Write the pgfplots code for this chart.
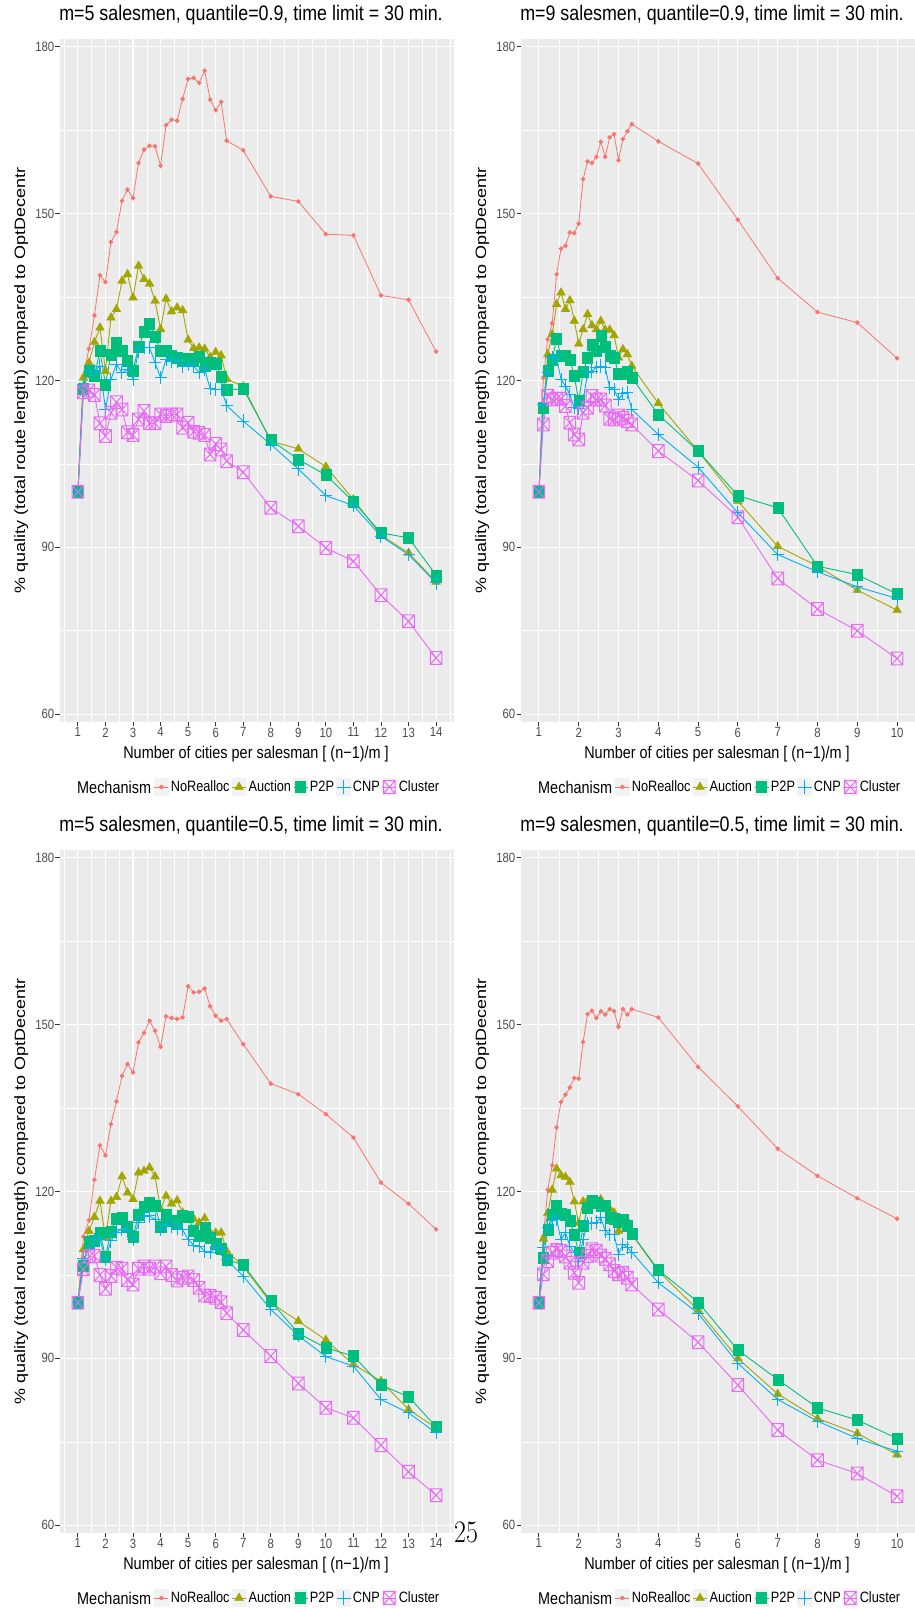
\documentclass[border=0pt]{standalone}
\usepackage{fontspec}
\usepackage{pgfplots}
\usepackage{pgfplotstable}
\pgfplotsset{compat=1.18}

\newfontfamily\nsans{Liberation Sans}[FakeStretch=0.85]
\newfontfamily\wsans{Liberation Sans}[FakeStretch=1.2]
\newcommand\titlefont{\nsans\fontsize{21}{24}\selectfont}
\newcommand\labfont{\nsans\fontsize{17}{20}\selectfont}
\newcommand\ylabfont{\wsans\fontsize{15}{18}\selectfont}
\newcommand\tickfont{\nsans\fontsize{13.4}{15}\selectfont}
\newcommand\legtitlefont{\nsans\fontsize{17}{20}\selectfont}
\newcommand\legfont{\nsans\fontsize{15}{18}\selectfont}

\definecolor{panelbg}{HTML}{EBEBEB}
\definecolor{keybg}{HTML}{F2F2F2}
\definecolor{labgray}{HTML}{4D4D4D}
\definecolor{tickgray}{HTML}{333333}
\definecolor{cnr}{HTML}{F8766D}
\definecolor{cau}{HTML}{A3A500}
\definecolor{cpp}{HTML}{00BF7D}
\definecolor{ccn}{HTML}{00B0F6}
\definecolor{ccl}{HTML}{E76BF3}

\pgfdeclareplotmark{boxx}{%
  \pgfpathrectangle{\pgfqpoint{-\pgfplotmarksize}{-\pgfplotmarksize}}{\pgfqpoint{2\pgfplotmarksize}{2\pgfplotmarksize}}%
  \pgfpathmoveto{\pgfqpoint{-\pgfplotmarksize}{-\pgfplotmarksize}}%
  \pgfpathlineto{\pgfqpoint{\pgfplotmarksize}{\pgfplotmarksize}}%
  \pgfpathmoveto{\pgfqpoint{-\pgfplotmarksize}{\pgfplotmarksize}}%
  \pgfpathlineto{\pgfqpoint{\pgfplotmarksize}{-\pgfplotmarksize}}%
  \pgfusepathqstroke}

% m=5, quantile=0.9
\pgfplotstableread{
x nr au pp cn cl
1.0 100 100 100 100 100
1.2 120.8 120.5 118.5 119.3 117.9
1.4 125.7 123.2 121.7 121.7 118.2
1.6 131.7 126.9 120.8 121.7 117.4
1.8 138.9 129.5 125.3 122.6 112.3
2.0 137.7 121.7 119.3 114.8 110.0
2.2 144.9 131.3 124.7 120.2 114.2
2.4 146.7 132.8 126.8 122.9 116.1
2.6 152.3 137.9 125.4 121.4 114.8
2.8 154.3 139.1 123.6 122.0 110.7
3.0 152.8 134.9 121.8 120.2 110.2
3.2 159.1 140.6 126.0 125.3 113.0
3.4 161.5 138.2 128.7 125.9 114.5
3.6 162.2 137.4 130.2 125.9 112.3
3.8 162.1 134.3 127.8 123.2 112.3
4.0 158.6 129.2 125.3 120.5 113.9
4.2 165.9 134.7 125.3 123.8 113.6
4.4 166.9 132.4 124.5 123.5 113.9
4.6 166.7 133.1 124.1 123.5 113.9
4.8 170.6 132.6 123.8 122.6 111.5
5.0 174.2 127.3 123.9 122.9 112.4
5.2 174.4 125.8 123.8 122.6 110.8
5.4 173.5 125.9 124.3 121.4 110.6
5.6 175.7 125.7 122.6 122.0 110.2
5.8 170.5 124.2 123.2 118.5 106.7
6.0 168.6 125.1 123.0 118.4 108.6
6.2 170.1 124.5 120.7 118.4 107.6
6.4 163.1 120.3 118.3 115.5 105.5
7 161.4 118.9 118.5 112.7 103.5
8 153.1 109.1 109.3 108.5 97.1
9 152.2 107.7 105.8 104.1 93.8
10 146.3 104.5 103.0 99.3 89.9
11 146.1 98.6 98.2 97.5 87.5
12 135.3 92.2 92.6 92.0 81.4
13 134.5 89.0 91.7 88.7 76.7
14 125.2 83.8 85.0 83.6 70.1
}\tA

% m=9, quantile=0.9
\pgfplotstableread{
x nr au pp cn cl
1.0000 100 100 100 100 100
1.1111 120.5 115.0 115.1 115.7 112.1
1.2222 127.4 124.7 121.7 121.5 117.2
1.3333 130.3 128.3 123.8 124.1 116.6
1.4444 139.1 133.7 127.5 124.1 116.7
1.5556 143.7 135.8 124.4 120.2 116.7
1.6667 144.2 132.8 124.4 119.0 115.4
1.7778 146.6 134.4 123.7 117.5 112.4
1.8889 146.5 130.7 120.8 115.1 110.3
2.0000 148.2 126.6 116.3 114.9 109.4
2.1111 156.2 129.2 121.5 116.3 114.2
2.2222 159.4 131.9 124.1 121.4 115.1
2.3333 159.1 129.9 126.5 121.7 117.2
2.4444 160.2 129.2 125.3 122.4 116.6
2.5556 162.9 130.7 128.1 122.6 116.6
2.6667 160.2 129.1 126.1 122.3 115.5
2.7778 163.7 129.1 124.5 118.7 113.1
2.8889 164.3 128.1 124.1 118.4 113.0
3.0000 159.6 124.1 121.3 116.6 113.7
3.1111 163.4 125.6 121.3 117.6 113.3
3.2222 164.8 124.7 121.5 117.8 112.7
3.3333 166.1 122.6 120.5 114.8 112.1
4 163.0 115.9 113.9 110.3 107.3
5 159.0 107.3 107.3 104.4 102.0
6 148.9 98.3 99.3 96.2 95.4
7 138.4 90.2 97.1 88.7 84.4
8 132.3 86.6 86.6 85.6 78.9
9 130.4 82.3 85.1 82.9 75.0
10 124.0 78.7 81.6 80.8 70.0
}\tB

% m=5, quantile=0.5
\pgfplotstableread{
x nr au pp cn cl
1.0 100 100 100 100 100
1.2 111.9 109.6 106.6 107.9 106.0
1.4 114.8 112.9 110.9 109.7 108.3
1.6 122.1 115.4 111.1 111.4 108.4
1.8 128.3 118.3 112.6 111.4 105.0
2.0 126.5 111.7 108.3 107.8 102.5
2.2 132.1 118.3 112.8 111.1 104.8
2.4 136.2 119.0 115.1 112.7 106.3
2.6 140.8 122.7 115.3 113.2 106.1
2.8 142.9 119.8 113.7 112.9 104.1
3.0 141.4 118.6 111.9 111.4 103.3
3.2 146.8 123.4 115.8 114.4 106.1
3.4 148.5 123.7 117.3 115.5 106.5
3.6 150.7 124.3 118.0 115.6 106.1
3.8 148.9 122.7 117.5 115.0 106.5
4.0 146.0 116.8 113.7 113.1 105.3
4.2 151.5 119.2 115.9 113.8 106.5
4.4 151.2 117.8 114.7 113.8 105.0
4.6 151.0 118.4 114.3 113.3 104.0
4.8 151.3 116.2 115.6 113.1 104.5
5.0 156.9 115.5 115.5 111.4 104.7
5.2 155.8 115.1 112.9 110.3 104.1
5.4 155.9 114.4 112.1 110.2 102.7
5.6 156.5 115.2 113.5 109.3 101.3
5.8 153.3 112.6 111.7 109.0 101.2
6.0 151.6 112.6 110.7 109.9 100.9
6.2 150.7 112.6 109.7 109.6 100.1
6.4 151.0 109.3 107.8 107.7 98.1
7 146.5 106.5 106.8 104.8 95.1
8 139.4 100.0 100.3 98.8 90.4
9 137.5 96.7 94.5 94.1 85.5
10 133.9 93.3 91.9 90.3 81.1
11 129.7 88.9 90.4 88.6 79.3
12 121.6 85.9 85.2 82.6 74.4
13 117.8 80.8 83.1 80.2 69.6
14 113.2 77.5 77.7 76.6 65.4
}\tC

% m=9, quantile=0.5
\pgfplotstableread{
x nr au pp cn cl
1.0000 100 100 100 100 100
1.1111 112.0 111.5 108.1 109.9 105.1
1.2222 120.3 116.1 113.2 113.5 107.5
1.3333 124.7 120.3 115.9 114.7 109.0
1.4444 131.5 124.1 117.5 115.0 109.5
1.5556 136.1 122.9 116.1 111.3 109.3
1.6667 137.4 122.6 115.9 112.6 108.3
1.7778 138.7 121.7 114.7 110.2 107.2
1.8889 140.4 118.2 112.3 109.0 105.4
2.0000 140.3 114.3 109.0 107.5 103.6
2.1111 146.9 118.2 113.8 111.4 107.2
2.2222 151.9 118.3 117.1 114.3 108.4
2.3333 152.5 118.0 118.3 114.3 109.6
2.4444 151.2 117.7 118.0 114.5 109.3
2.5556 152.4 118.6 117.5 115.3 108.5
2.6667 151.8 116.9 117.5 112.9 107.9
2.7778 152.8 116.9 115.3 112.3 106.9
2.8889 152.4 116.2 115.1 112.3 105.7
3.0000 149.6 112.9 114.5 108.7 105.1
3.1111 152.8 114.1 115.0 110.5 105.4
3.2222 151.8 114.7 113.8 109.9 104.5
3.3333 152.8 112.3 112.4 109.1 103.3
4 151.3 105.7 105.9 103.6 98.8
5 142.4 98.7 100.1 98.1 92.9
6 135.3 90.0 91.5 89.1 85.2
7 127.7 83.6 86.2 82.6 77.1
8 122.8 79.2 81.1 78.7 71.7
9 118.8 76.5 78.9 75.6 69.3
10 115.1 72.7 75.6 73.3 65.2
}\tD

\pgfplotsset{
  panel/.style={
    scale only axis, width=394pt, height=683pt,
    axis background/.style={fill=panelbg},
    axis line style={draw=none},
    ymin=58.6, ymax=181.4,
    ytick={60,90,120,150,180},
    minor ytick={75,105,135,165},
    grid=both,
    major grid style={draw=white, line width=1.1pt},
    minor grid style={draw=white, line width=0.55pt},
    tick align=outside, tick pos=left,
    major tick length=4.5pt, minor tick length=0pt,
    tick style={draw=tickgray, line width=0.9pt},
    /pgf/number format/assume math mode=true,
    ticklabel style={font=\tickfont, text=labgray},
    yticklabel style={inner sep=1pt},
    xticklabel style={inner sep=1pt},
    title style={at={(axis description cs:0.4848,1.018)}, anchor=base, font=\titlefont, inner sep=0pt},
    xlabel style={at={(axis description cs:0.4975,-0.0531)}, anchor=base, font=\labfont, inner sep=0pt},
    ylabel style={at={(axis description cs:-0.0888,0.5)}, anchor=base, font=\ylabfont, inner sep=0pt},
    xlabel={Number of cities per salesman [ (n−1)/m ]},
    ylabel={\% quality (total route length) compared to OptDecentr},
    legend columns=-1,
    legend cell align=left,
    legend style={at={(axis description cs:0.2386,-0.0952)}, anchor=west,
      draw=none, fill=none, inner sep=0pt, outer sep=0pt, font=\legfont,
      nodes={inner sep=0.5pt},
      /tikz/every odd column/.append style={column sep=1.5pt},
      /tikz/every even column/.append style={column sep=1.5pt}},
    legend image code/.code={%
      \fill[keybg] (0pt,-8.5pt) rectangle (14pt,8.5pt);
      \draw[mark repeat=2,mark phase=2] plot coordinates {(0pt,0pt) (7pt,0pt) (14pt,0pt)};
    },
  },
  m5/.style={xmin=0.35, xmax=14.65, xtick={1,...,14}, minor xtick={0.5,1.5,...,14.5}},
  m9/.style={xmin=0.55, xmax=10.45, xtick={1,...,10}, minor xtick={1.5,2.5,...,9.5}},
  nr/.style={color=cnr, line width=0.8pt, mark=*, mark size=1.9pt, mark options={solid, fill=cnr}},
  au/.style={color=cau, line width=0.9pt, mark=triangle*, mark size=5.1pt, mark options={solid, fill=cau, line width=0.3pt}},
  pp/.style={color=cpp, line width=0.9pt, mark=square*, mark size=5pt, mark options={solid, fill=cpp, line width=0.3pt, yscale=1.1}},
  cn/.style={color=ccn, line width=0.9pt, mark=+, mark size=6pt, mark options={solid, line width=1pt, yscale=1.1}},
  cl/.style={color=ccl, line width=0.9pt, mark=boxx, mark size=5.8pt, mark options={solid, line width=1pt, yscale=1.1}},
}

\newcommand\series[1]{%
  \addplot[nr] table[x=x,y=nr]{#1}; \addlegendentry{NoRealloc}
  \addplot[au] table[x=x,y=au]{#1}; \addlegendentry{Auction}
  \addplot[pp] table[x=x,y=pp]{#1}; \addlegendentry{P2P}
  \addplot[cn] table[x=x,y=cn]{#1}; \addlegendentry{CNP}
  \addplot[cl] table[x=x,y=cl]{#1}; \addlegendentry{Cluster}
}

\begin{document}
\begin{tikzpicture}
\useasboundingbox (0pt,0pt) rectangle (915pt,1609pt);

\begin{axis}[panel, m5, at={(60pt,887pt)}, anchor=south west,
  title={m=5 salesmen, quantile=0.9, time limit = 30 min.}]
\series{\tA}
\end{axis}

\begin{axis}[panel, m9, at={(521pt,887pt)}, anchor=south west,
  title={m=9 salesmen, quantile=0.9, time limit = 30 min.}]
\series{\tB}
\end{axis}

\begin{axis}[panel, m5, at={(60pt,76pt)}, anchor=south west,
  title={m=5 salesmen, quantile=0.5, time limit = 30 min.}]
\series{\tC}
\end{axis}

\begin{axis}[panel, m9, at={(521pt,76pt)}, anchor=south west,
  title={m=9 salesmen, quantile=0.5, time limit = 30 min.}]
\series{\tD}
\end{axis}

\node[anchor=west, inner sep=0pt, font=\legtitlefont] at (77pt,822pt) {Mechanism};
\node[anchor=west, inner sep=0pt, font=\legtitlefont] at (538pt,822pt) {Mechanism};
\node[anchor=west, inner sep=0pt, font=\legtitlefont] at (77pt,11pt) {Mechanism};
\node[anchor=west, inner sep=0pt, font=\legtitlefont] at (538pt,11pt) {Mechanism};

\node[inner sep=0pt, anchor=center] at (466pt,77pt) {\scalebox{1}[1.2]{\fontsize{26}{26}\selectfont 25}};
\end{tikzpicture}
\end{document}
